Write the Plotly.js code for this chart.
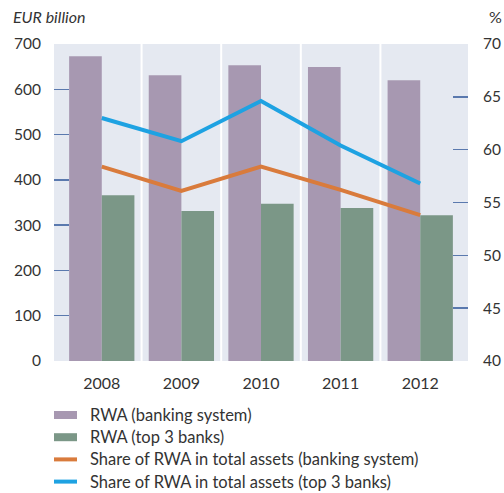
<!DOCTYPE html>
<html>
<head>
<meta charset="utf-8">
<script src="https://cdn.plot.ly/plotly-3.0.1.min.js"></script>
<style>html,body{margin:0;padding:0;background:#fff;}#chart{width:504px;height:493px;}</style>
</head>
<body>
<div id="chart"></div>
<script>
var years = ['2008', '2009', '2010', '2011', '2012'];
var rwaBanking = [673, 631, 653, 649, 620];
var rwaTop3 = [366, 331, 347, 338, 322];
var shareBanking = [58.4, 56.1, 58.4, 56.2, 53.8];
var shareTop3 = [63.0, 60.8, 64.6, 60.4, 56.8];
var leftTicks = [0, 100, 200, 300, 400, 500, 600, 700];
var rightTicks = [40, 45, 50, 55, 60, 65, 70];
var seriesNames = ['RWA (banking system)', 'RWA (top 3 banks)',
  'Share of RWA in total assets (banking system)', 'Share of RWA in total assets (top 3 banks)'];
var seriesColors = ['#a798b1', '#7b9787', '#d97b3c', '#1ea2e2'];
var seriesKinds = ['bar', 'bar', 'line', 'line'];

var FONT = 'Lato, "Open Sans", sans-serif';
var TXT = '#333333';
var TICK = '#5a79ae';
var W = 504, H = 493, M = {l: 54, r: 36, t: 44, b: 132};
var PW = W - M.l - M.r, PH = H - M.t - M.b;
function px2x(px) { return (px - M.l) / PW; }
function px2y(py) { return (H - M.b - py) / PH; }

var traces = [
  {type: 'bar', name: seriesNames[0], x: years, y: rwaBanking, marker: {color: seriesColors[0]}, yaxis: 'y'},
  {type: 'bar', name: seriesNames[1], x: years, y: rwaTop3, marker: {color: seriesColors[1]}, yaxis: 'y'},
  {type: 'scatter', mode: 'lines', name: seriesNames[2], x: years, y: shareBanking, yaxis: 'y2',
   line: {color: seriesColors[2], width: 4}},
  {type: 'scatter', mode: 'lines', name: seriesNames[3], x: years, y: shareTop3, yaxis: 'y2',
   line: {color: seriesColors[3], width: 4}}
];

var shapes = [];
for (var i = 0; i < years.length - 1; i++) {
  shapes.push({type: 'line', xref: 'x', yref: 'paper', x0: i + 0.5, x1: i + 0.5, y0: 0, y1: 1,
    line: {color: '#ffffff', width: 2}, layer: 'below'});
}
var annotations = [
  {text: '<i>EUR billion</i>', xref: 'paper', yref: 'paper', x: 0, y: 1, xanchor: 'left', yanchor: 'middle',
   xshift: -43, yshift: 28, showarrow: false, font: {family: FONT, size: 16, color: TXT}},
  {text: '%', xref: 'paper', yref: 'paper', x: 1, y: 1, xanchor: 'right', yanchor: 'middle',
   xshift: 36, yshift: 28, showarrow: false, font: {family: FONT, size: 16, color: TXT}}
];

// custom legend
var legTop = 415, legStep = 22.2, symL = 54, symR = 77, textX = 88;
for (var k = 0; k < seriesNames.length; k++) {
  var cy = legTop + k * legStep;
  if (seriesKinds[k] === 'bar') {
    shapes.push({type: 'rect', xref: 'paper', yref: 'paper', x0: px2x(symL), x1: px2x(symR),
      y0: px2y(cy - 4), y1: px2y(cy + 4), fillcolor: seriesColors[k], line: {width: 0}});
  } else {
    shapes.push({type: 'line', xref: 'paper', yref: 'paper', x0: px2x(symL), x1: px2x(symR),
      y0: px2y(cy), y1: px2y(cy), line: {color: seriesColors[k], width: 4}});
  }
  annotations.push({text: seriesNames[k], xref: 'paper', yref: 'paper', x: px2x(textX), y: px2y(cy),
    xanchor: 'left', yanchor: 'middle', showarrow: false, font: {family: FONT, size: 16.5, color: TXT}});
}

var layout = {
  width: W, height: H,
  margin: M,
  paper_bgcolor: '#ffffff',
  plot_bgcolor: '#e5e9f1',
  font: {family: FONT, size: 15, color: TXT},
  barmode: 'group', bargap: 0.18, bargroupgap: 0,
  showlegend: false,
  xaxis: {type: 'category', range: [-0.6, 4.6], showgrid: false, zeroline: false, showline: false,
    ticks: '', ticklabelstandoff: 11, tickfont: {family: FONT, size: 16, color: TXT}, fixedrange: true},
  yaxis: {range: [0, 700], tickvals: leftTicks, ticks: 'inside', ticklen: 15, tickwidth: 1.5, tickcolor: TICK,
    showgrid: false, zeroline: false, showline: false, ticklabelstandoff: 12,
    tickfont: {family: FONT, size: 15.5, color: TXT}},
  yaxis2: {range: [40, 70], tickvals: rightTicks, overlaying: 'y', side: 'right', ticks: 'inside', ticklen: 15,
    tickwidth: 1.5, tickcolor: TICK, showgrid: false, zeroline: false, showline: false, ticklabelstandoff: 14,
    tickfont: {family: FONT, size: 15.5, color: TXT}},
  shapes: shapes,
  annotations: annotations
};

Plotly.newPlot('chart', traces, layout, {displayModeBar: false, staticPlot: true});
</script>
</body>
</html>
